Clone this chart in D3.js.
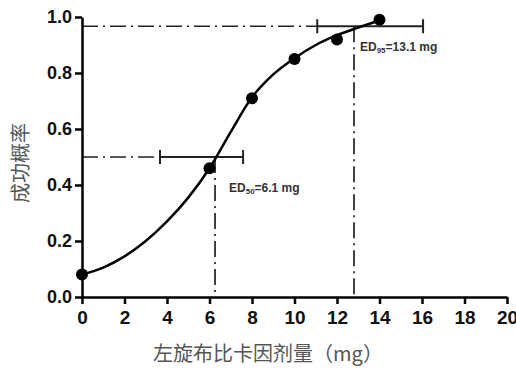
<!DOCTYPE html>
<html>
<head>
<meta charset="utf-8">
<script src="https://cdn.jsdelivr.net/npm/d3@7"></script>
<style>
  body { margin: 0; background: #fff; }
  .axis path, .axis line { stroke: #000; stroke-width: 2.5px; }
  .axis text { font-family: "Liberation Sans", Arial, sans-serif; font-weight: bold; font-size: 18px; fill: #111; }
</style>
</head>
<body>
<svg id="chart" width="516" height="370"></svg>
<script>
// observed points
var doses = [0, 6, 8, 10, 12, 14];
var rates = [0.08, 0.46, 0.71, 0.85, 0.92, 0.99];

// fitted curve
var curveX = [0, 1, 2, 3, 4, 5, 6, 7, 8, 9, 10, 11, 12, 13, 14.1];
var curveY = [0.08, 0.105, 0.145, 0.2, 0.27, 0.355, 0.46, 0.59, 0.713, 0.795, 0.853, 0.9, 0.935, 0.962, 0.99];

// ED50 / ED95 estimates with their intervals
var edNames = ["50", "95"];
var edLevel = [0.5, 0.967];
var edDose = [6.26, 12.8];
var edLow = [3.67, 11.07];
var edHigh = [7.58, 16.05];
var edText = ["6.1 mg", "13.1 mg"];

var xTicks = [0, 2, 4, 6, 8, 10, 12, 14, 16, 18, 20];
var yTicks = [0, 0.2, 0.4, 0.6, 0.8, 1.0];

var svg = d3.select("#chart");
var margin = {top: 17, right: 9, bottom: 73, left: 82};
var width = +svg.attr("width") - margin.left - margin.right;
var height = +svg.attr("height") - margin.top - margin.bottom;
var g = svg.append("g").attr("transform", "translate(" + margin.left + "," + margin.top + ")");

var x = d3.scaleLinear().domain([0, 20]).range([0, width]);
var y = d3.scaleLinear().domain([0, 1]).range([height, 0]);

var dash = "16,5,2,5";

// reference lines
edNames.forEach(function(n, i) {
  g.append("line")
    .attr("x1", x(0)).attr("x2", x(edLow[i]))
    .attr("y1", y(edLevel[i])).attr("y2", y(edLevel[i]))
    .attr("stroke", "#222").attr("stroke-width", 1.7)
    .attr("stroke-dasharray", dash);
  g.append("line")
    .attr("x1", x(edDose[i])).attr("x2", x(edDose[i]))
    .attr("y1", y(edLevel[i])).attr("y2", y(0))
    .attr("stroke", "#222").attr("stroke-width", 1.7)
    .attr("stroke-dasharray", dash);
  // interval bar
  g.append("line")
    .attr("x1", x(edLow[i])).attr("x2", x(edHigh[i]))
    .attr("y1", y(edLevel[i])).attr("y2", y(edLevel[i]))
    .attr("stroke", "#222").attr("stroke-width", 2);
  [edLow[i], edHigh[i]].forEach(function(v) {
    g.append("line")
      .attr("x1", x(v)).attr("x2", x(v))
      .attr("y1", y(edLevel[i]) - 7).attr("y2", y(edLevel[i]) + 7)
      .attr("stroke", "#222").attr("stroke-width", 2);
  });
});

// curve
var line = d3.line()
  .x(function(d, i) { return x(curveX[i]); })
  .y(function(d, i) { return y(curveY[i]); })
  .curve(d3.curveMonotoneX);

g.append("path")
  .attr("d", line(curveX))
  .attr("fill", "none")
  .attr("stroke", "#000")
  .attr("stroke-width", 2.5);

g.selectAll(".dot")
  .data(doses)
  .enter().append("circle")
  .attr("class", "dot")
  .attr("cx", function(d) { return x(d); })
  .attr("cy", function(d, i) { return y(rates[i]); })
  .attr("r", 6)
  .attr("fill", "#000");

// axes
g.append("g")
  .attr("class", "axis")
  .attr("transform", "translate(0," + height + ")")
  .call(d3.axisBottom(x).tickValues(xTicks).tickSize(7).tickSizeOuter(0).tickPadding(7).tickFormat(d3.format("d")))
  .selectAll("text").style("font-size", "19px");

g.append("g")
  .attr("class", "axis")
  .call(d3.axisLeft(y).tickValues(yTicks).tickSize(7).tickSizeOuter(0).tickPadding(3).tickFormat(d3.format(".1f")));

// ED labels
var labelPos = [[x(edDose[0]) + 14, y(edLevel[0]) + 35], [x(edDose[1]) + 6, y(edLevel[1]) + 25]];
edNames.forEach(function(n, i) {
  var t = g.append("text")
    .attr("x", labelPos[i][0]).attr("y", labelPos[i][1])
    .attr("font-family", "'Liberation Sans', Arial, sans-serif")
    .attr("font-size", 12).attr("font-weight", "bold").attr("fill", "#333");
  t.append("tspan").text("ED");
  t.append("tspan").attr("font-size", 8).attr("dy", 2).text(n);
  t.append("tspan").attr("dy", -2).text("=" + edText[i]);
});

// axis titles
svg.append("text")
  .attr("transform", "translate(28," + 163 + ") rotate(-90)")
  .attr("text-anchor", "middle")
  .attr("font-family", "'Noto Sans CJK SC', sans-serif")
  .attr("font-size", 20).attr("fill", "#555")
  .text("成功概率");

svg.append("text")
  .attr("x", 268).attr("y", 361)
  .attr("text-anchor", "middle")
  .attr("font-family", "'Noto Sans CJK SC', sans-serif")
  .attr("font-size", 20).attr("fill", "#555")
  .text("左旋布比卡因剂量（mg）");
</script>
</body>
</html>
